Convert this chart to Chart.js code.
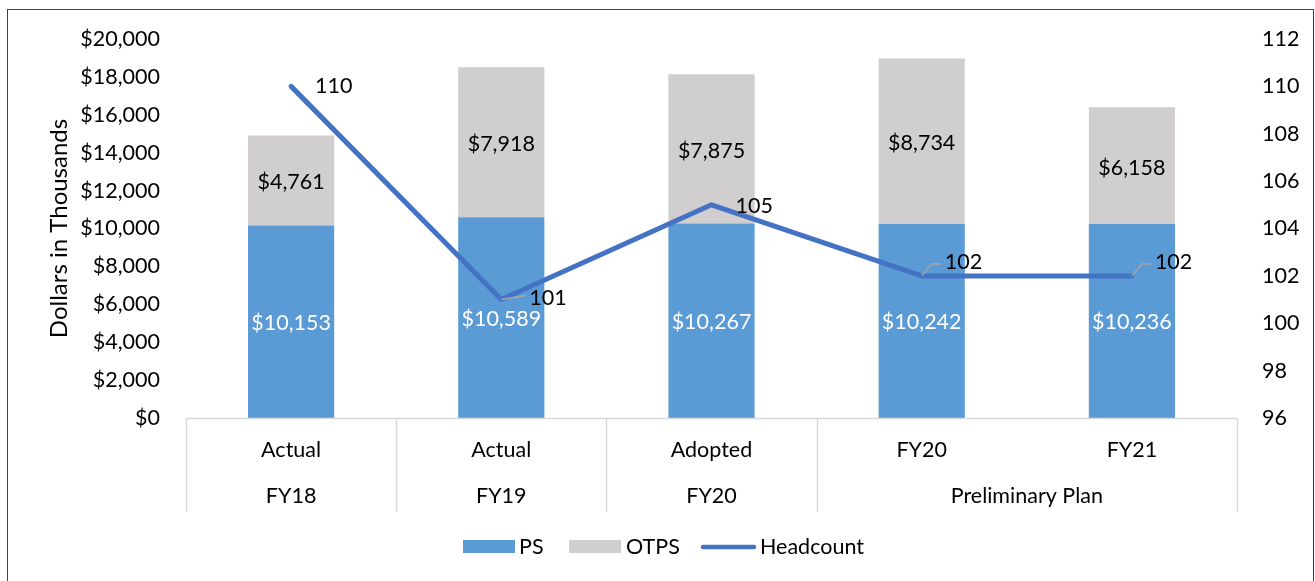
<!DOCTYPE html>
<html><head><meta charset="utf-8">
<script src="https://cdn.jsdelivr.net/npm/chart.js@4/dist/chart.umd.min.js"></script>
<style>html,body{margin:0;padding:0;background:#fff}#wrap{width:1315px;height:581px;position:relative}</style>
</head><body><div id="wrap"><canvas id="c" width="1315" height="581"></canvas></div>
<script>
const categories = ['Actual','Actual','Adopted','FY20','FY21'];
const groupLabels = ['FY18','FY19','FY20','Preliminary Plan'];
const groupSpans = [1,1,1,2];
const psValues = [10153,10589,10267,10242,10236];
const otpsValues = [4761,7918,7875,8734,6158];
const headcount = [110,101,105,102,102];
const leftTicks = [0,2000,4000,6000,8000,10000,12000,14000,16000,18000,20000];
const rightTicks = [96,98,100,102,104,106,108,110,112];

const FONT = 'Lato, "Open Sans", sans-serif';
const FS = 21.5;
const fmt = v => '$' + v.toLocaleString('en-US');

const deco = {
  id:'deco',
  beforeDraw(chart){
    const c = chart.ctx;
    c.save();
    c.fillStyle='#fff'; c.fillRect(0,0,chart.width,chart.height);
    c.strokeStyle='#404040'; c.lineWidth=1;
    c.strokeRect(7.5,9.5,1306,580);
    c.restore();
  },
  afterDatasetsDraw(chart){
    const c = chart.ctx, x = chart.scales.x, ca = chart.chartArea;
    c.save();
    // category box
    c.strokeStyle='#d9d9d9'; c.lineWidth=1.5;
    const top = ca.bottom + 0.5, bot = 512;
    c.beginPath(); c.moveTo(ca.left, top); c.lineTo(ca.right, top); c.stroke();
    const half = (x.getPixelForValue(1)-x.getPixelForValue(0))/2;
    let idx = 0;
    const bounds = [x.getPixelForValue(0)-half];
    groupSpans.forEach(s => { idx += s; bounds.push(x.getPixelForValue(idx-1)+half); });
    bounds.forEach(b => { c.beginPath(); c.moveTo(Math.round(b)+0.5, top); c.lineTo(Math.round(b)+0.5, bot); c.stroke(); });
    c.fillStyle='#000'; c.font=FS+'px '+FONT; c.textAlign='center'; c.textBaseline='middle';
    categories.forEach((t,i)=> c.fillText(t, x.getPixelForValue(i), 450));
    idx = 0;
    groupLabels.forEach((t,g)=>{
      const a = x.getPixelForValue(idx), b = x.getPixelForValue(idx+groupSpans[g]-1);
      c.fillText(t, (a+b)/2, 496);
      idx += groupSpans[g];
    });
    // bar labels
    const m0 = chart.getDatasetMeta(0), m1 = chart.getDatasetMeta(1);
    m0.data.forEach((el,i)=>{ c.fillStyle='#fff'; c.fillText(fmt(psValues[i]), el.x, (el.y+el.base)/2 + 1); });
    m1.data.forEach((el,i)=>{ c.fillStyle='#000'; c.fillText(fmt(otpsValues[i]), el.x, (el.y+el.base)/2 + 2); });
    // headcount labels
    const m2 = chart.getDatasetMeta(2);
    const offs = [[24,0,false],[28,-2,true],[24,1,false],[23,-14,true],[23,-14,true]];
    c.textAlign='left';
    m2.data.forEach((el,i)=>{
      const [dx,dy,lead] = offs[i];
      if(lead){
        c.strokeStyle='#a6a6a6'; c.lineWidth=1.5; c.beginPath();
        if(dy<-5){ c.moveTo(el.x,el.y); c.lineTo(el.x+10,el.y+dy+2); c.lineTo(el.x+dx-3,el.y+dy+2); }
        else { c.moveTo(el.x,el.y); c.lineTo(el.x+dx-4,el.y+dy-2); }
        c.stroke();
      }
      c.fillStyle='#000'; c.fillText(String(headcount[i]), el.x+dx, el.y+dy);
    });
    // legend
    const ly = 547;
    c.fillStyle='#5B9BD5'; c.fillRect(463,540,52,13);
    c.fillStyle='#000'; c.fillText('PS',519,ly);
    c.fillStyle='#D0CECE'; c.fillRect(569,540,52,13);
    c.fillStyle='#000'; c.fillText('OTPS',626,ly);
    c.strokeStyle='#4472C4'; c.lineWidth=4.5; c.lineCap='round';
    c.beginPath(); c.moveTo(703,ly); c.lineTo(754,ly); c.stroke();
    c.fillStyle='#000'; c.fillText('Headcount',760,ly);
    c.restore();
  }
};

new Chart(document.getElementById('c'), {
  data:{
    labels: categories,
    datasets:[
      {type:'bar', label:'PS', data:psValues, backgroundColor:'#5B9BD5', yAxisID:'y', stack:'s', order:2, barPercentage:0.41, categoryPercentage:1},
      {type:'bar', label:'OTPS', data:otpsValues, backgroundColor:'#D0CECE', yAxisID:'y', stack:'s', order:2, barPercentage:0.41, categoryPercentage:1},
      {type:'line', label:'Headcount', data:headcount, borderColor:'#4472C4', borderWidth:5, pointRadius:0, yAxisID:'y1', order:1, tension:0, borderCapStyle:'round', borderJoinStyle:'round'}
    ]
  },
  options:{
    responsive:false, animation:false,
    layout:{padding:{left:0,right:0,top:39,bottom:163}},
    plugins:{legend:{display:false}, tooltip:{enabled:false}},
    scales:{
      x:{display:false, stacked:true},
      y:{
        stacked:true, min:0, max:20000, position:'left',
        afterFit(s){ s.width = 186; },
        afterBuildTicks(s){ s.ticks = leftTicks.map(v=>({value:v})); },
        grid:{display:false, drawTicks:false}, border:{display:false},
        ticks:{padding:26, color:'#000', font:{size:FS, family:FONT}, callback:v=>fmt(v)},
        title:{display:true, text:'Dollars in Thousands', color:'#000', font:{size:24, family:FONT}, padding:{top:45,bottom:0}}
      },
      y1:{
        min:96, max:112, position:'right',
        afterFit(s){ s.width = 78; },
        afterBuildTicks(s){ s.ticks = rightTicks.map(v=>({value:v})); },
        grid:{display:false, drawTicks:false}, border:{display:false},
        ticks:{padding:25, color:'#000', font:{size:FS, family:FONT}}
      }
    }
  },
  plugins:[deco]
});
</script></body></html>
